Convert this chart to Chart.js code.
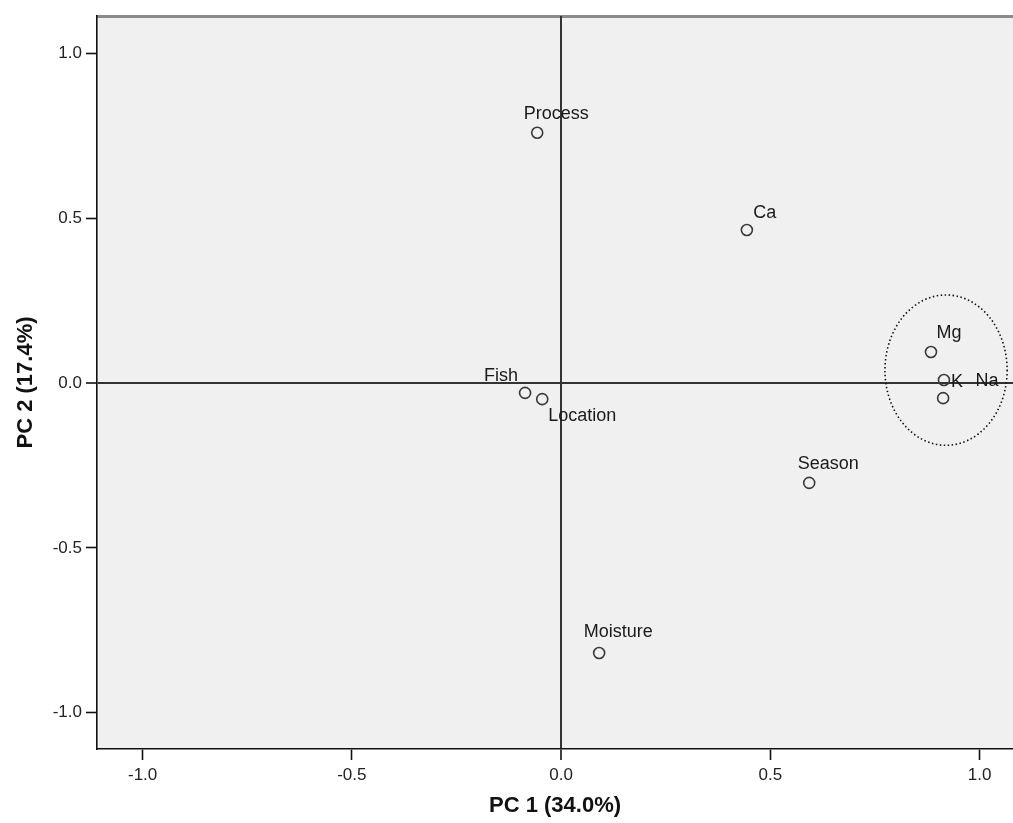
<!DOCTYPE html>
<html>
<head>
<meta charset="utf-8">
<script src="https://cdn.jsdelivr.net/npm/chart.js@4.4.1/dist/chart.umd.min.js"></script>
<style>
  body { margin: 0; background: #fff; }
  #wrap { width: 1013px; height: 823px; }
</style>
</head>
<body>
<div id="wrap"><canvas id="pcaChart" width="1013" height="823"></canvas></div>
<script>
// variables (loadings on PC1 / PC2)
const varNames = ['Process', 'Ca', 'Mg', 'K', 'Na', 'Fish', 'Location', 'Season', 'Moisture'];
const pc1Values = [-0.057, 0.444, 0.884, 0.915, 0.913, -0.086, -0.045, 0.593, 0.091];
const pc2Values = [0.759, 0.464, 0.094, 0.009, -0.046, -0.030, -0.049, -0.303, -0.819];

const xTicks = [-1.0, -0.5, 0.0, 0.5, 1.0];
const yTicks = [-1.0, -0.5, 0.0, 0.5, 1.0];

// dotted ellipse round the Mg / K / Na group (centre x, centre y, radius x, radius y)
const groupEllipse = [0.920, 0.039, 0.146, 0.228];

// where each label sits relative to its point, in pixels
const labelOffsets = {
    Process: [19, -19], Ca: [18, -17], Mg: [18, -19], K: [13, 2], Na: [44, -17],
    Fish: [-24, -17], Location: [40, 17], Season: [19, -19], Moisture: [19, -21]
};

const fontFam = '"Liberation Sans", Arial, sans-serif';

const plotBack = {
    id: 'plotBack',
    beforeDraw(chart) {
        const { ctx, chartArea: a } = chart;
        ctx.save();
        ctx.fillStyle = '#f0f0f0';
        ctx.fillRect(a.left, a.top, a.right - a.left, a.bottom - a.top);
        // grey top frame line
        ctx.strokeStyle = '#8a8a8a';
        ctx.lineWidth = 3;
        ctx.beginPath();
        ctx.moveTo(a.left, a.top + 0.5);
        ctx.lineTo(a.right, a.top + 0.5);
        ctx.stroke();
        ctx.restore();
    }
};

const pointNames = {
    id: 'pointNames',
    afterDatasetsDraw(chart) {
        const { ctx } = chart;
        const meta = chart.getDatasetMeta(0);
        ctx.save();
        ctx.font = '18px ' + fontFam;
        ctx.fillStyle = '#1a1a1a';
        ctx.textAlign = 'center';
        ctx.textBaseline = 'middle';
        meta.data.forEach((pt, i) => {
            const off = labelOffsets[varNames[i]];
            ctx.fillText(varNames[i], pt.x + off[0], pt.y + off[1]);
        });

        // dotted ellipse
        const xs = chart.scales.x, ys = chart.scales.y;
        const cx = xs.getPixelForValue(groupEllipse[0]);
        const cy = ys.getPixelForValue(groupEllipse[1]);
        const rx = Math.abs(xs.getPixelForValue(groupEllipse[0] + groupEllipse[2]) - cx);
        const ry = Math.abs(ys.getPixelForValue(groupEllipse[1] + groupEllipse[3]) - cy);
        ctx.strokeStyle = '#111';
        ctx.lineWidth = 1.6;
        ctx.setLineDash([1.5, 2.5]);
        ctx.beginPath();
        ctx.ellipse(cx, cy, rx, ry, 0, 0, Math.PI * 2);
        ctx.stroke();
        ctx.restore();
    }
};

const zeroColor = (c) => (c.tick && c.tick.value === 0 ? '#333333' : 'rgba(0,0,0,0)');
const zeroWidth = (c) => (c.tick && c.tick.value === 0 ? 2 : 1);

new Chart(document.getElementById('pcaChart'), {
    type: 'scatter',
    data: {
        datasets: [{
            label: 'loadings',
            data: pc1Values.map((v, i) => ({ x: v, y: pc2Values[i] })),
            pointRadius: 5.5,
            pointHoverRadius: 5.5,
            pointBorderWidth: 1.6,
            borderColor: '#3a3a3a',
            backgroundColor: 'rgba(0,0,0,0)',
            pointStyle: 'circle'
        }]
    },
    options: {
        responsive: false,
        animation: false,
        events: [],
        layout: { autoPadding: false, padding: { top: 16, left: 0, right: 0, bottom: 0 } },
        plugins: {
            legend: { display: false },
            tooltip: { enabled: false }
        },
        scales: {
            x: {
                type: 'linear',
                min: -1.109,
                max: 1.08,
                afterFit(scale) {
                    scale.height = 74;
                    scale.paddingLeft = 0;
                    scale.paddingRight = 0;
                },
                afterBuildTicks(scale) { scale.ticks = xTicks.map(v => ({ value: v })); },
                ticks: {
                    color: '#222',
                    font: { family: fontFam, size: 17 },
                    padding: 5,
                    maxRotation: 0,
                    callback: (v) => Number(v).toFixed(1)
                },
                grid: {
                    color: zeroColor,
                    lineWidth: zeroWidth,
                    tickColor: '#111',
                    tickWidth: 1.6,
                    tickLength: 11
                },
                border: { display: true, color: '#111', width: 1.6 },
                title: {
                    display: true,
                    text: 'PC 1 (34.0%)',
                    color: '#111',
                    font: { family: fontFam, size: 22, weight: 'bold' },
                    padding: { top: 0, bottom: 4 }
                }
            },
            y: {
                type: 'linear',
                min: -1.11,
                max: 1.113,
                afterFit(scale) {
                    scale.width = 97;
                    scale.paddingTop = 0;
                    scale.paddingBottom = 0;
                },
                afterBuildTicks(scale) { scale.ticks = yTicks.map(v => ({ value: v })); },
                ticks: {
                    color: '#222',
                    font: { family: fontFam, size: 17 },
                    padding: 4,
                    callback: (v) => Number(v).toFixed(1)
                },
                grid: {
                    color: zeroColor,
                    lineWidth: zeroWidth,
                    tickColor: '#111',
                    tickWidth: 1.6,
                    tickLength: 11
                },
                border: { display: true, color: '#111', width: 1.6 },
                title: {
                    display: true,
                    text: 'PC 2 (17.4%)',
                    color: '#111',
                    font: { family: fontFam, size: 22, weight: 'bold' },
                    padding: { top: 13, bottom: 0 }
                }
            }
        }
    },
    plugins: [plotBack, pointNames]
});
</script>
</body>
</html>
